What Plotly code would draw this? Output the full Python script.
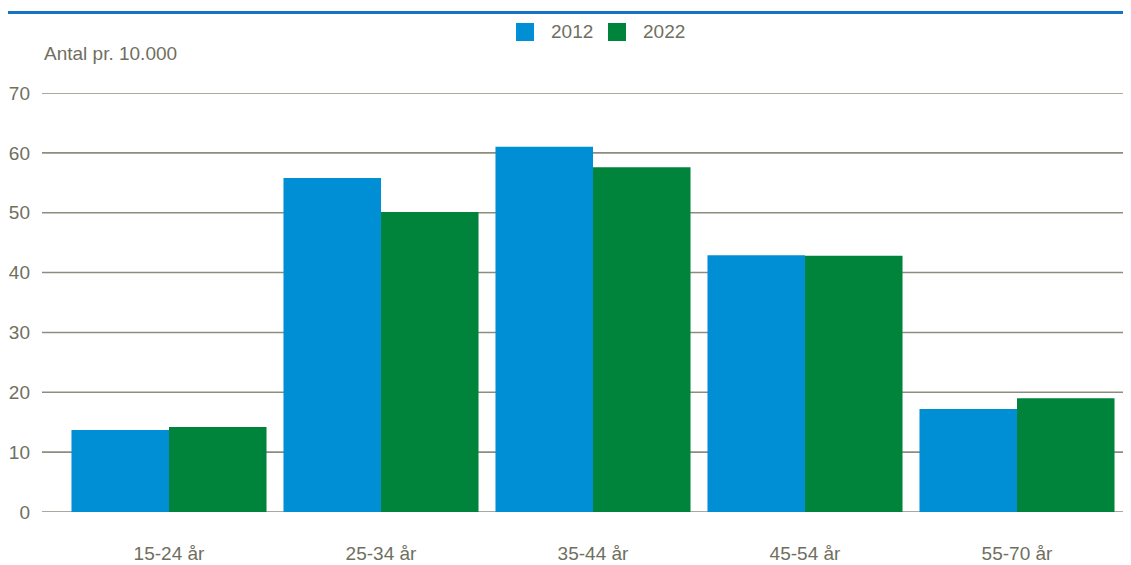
import plotly.graph_objects as go

categories = ["15-24 år", "25-34 år", "35-44 år", "45-54 år", "55-70 år"]
series_names = ["2012", "2022"]
values_2012 = [13.7, 55.8, 61.0, 42.9, 17.2]
values_2022 = [14.2, 50.1, 57.6, 42.8, 19.0]
y_ticks = [0, 10, 20, 30, 40, 50, 60, 70]
colors = ["#008fd5", "#00843b"]

# the page body adds an 8px offset; work in reference-screen pixels and shift
OFF = 8
W, H = 1131 - OFF, 565 - OFF
ML, MR, MT, MB = 63 - OFF, 8, 93 - OFF, 565 - 512
pw = W - ML - MR
ph = H - MT - MB

def px_x(x):
    return (x - OFF - ML) / pw

def px_y(y):
    return (H - MB - (y - OFF)) / ph

text_color = "#6f6f60"
grid_color = "#8d8d7e"
font_family = "Liberation Sans, Arial, sans-serif"
FS = 19

fig = go.Figure()
for name, vals, col in zip(series_names, [values_2012, values_2022], colors):
    fig.add_trace(go.Bar(name=name, x=categories, y=vals, showlegend=False,
                         marker=dict(color=col, line=dict(width=0))))

shapes = []
for t in y_ticks:
    shapes.append(dict(type="line", xref="paper", yref="y", x0=px_x(42), x1=px_x(1129), y0=t, y1=t,
                       line=dict(color=grid_color, width=1.6), layer="below"))
shapes.append(dict(type="line", xref="paper", yref="paper", x0=px_x(7), x1=px_x(1131), y0=px_y(12.5), y1=px_y(12.5),
                   line=dict(color="#1573c4", width=3)))

annotations = [dict(text="Antal pr. 10.000", xref="paper", yref="paper", x=px_x(42), y=px_y(53),
                    xanchor="left", yanchor="middle", showarrow=False,
                    font=dict(size=FS, color=text_color))]

# legend (manual, to match key size and spacing)
legend_x = [516, 608]
for name, col, lx in zip(series_names, colors, legend_x):
    shapes.append(dict(type="rect", xref="paper", yref="paper", x0=px_x(lx), x1=px_x(lx + 18),
                       y0=px_y(41), y1=px_y(23), fillcolor=col, line=dict(width=0)))
    annotations.append(dict(text=name, xref="paper", yref="paper", x=px_x(lx + 33), y=px_y(32),
                            xanchor="left", yanchor="middle", showarrow=False,
                            font=dict(size=FS, color=text_color)))

fig.update_layout(
    width=W, height=H,
    margin=dict(l=ML, r=MR, t=MT, b=MB, autoexpand=False),
    paper_bgcolor="white", plot_bgcolor="white",
    barmode="group", bargap=0.08, bargroupgap=0,
    font=dict(family=font_family, size=FS, color=text_color),
    showlegend=False,
    xaxis=dict(showgrid=False, zeroline=False, showline=False, ticks="", automargin=False,
               tickfont=dict(size=FS, color=text_color), ticklabelstandoff=28),
    yaxis=dict(range=[0, 70], tickvals=y_ticks, showgrid=False, zeroline=False, showline=False,
               automargin=False, tickfont=dict(size=FS, color=text_color), ticklabelstandoff=32),
    shapes=shapes,
    annotations=annotations,
)

fig.write_html("out.html")
